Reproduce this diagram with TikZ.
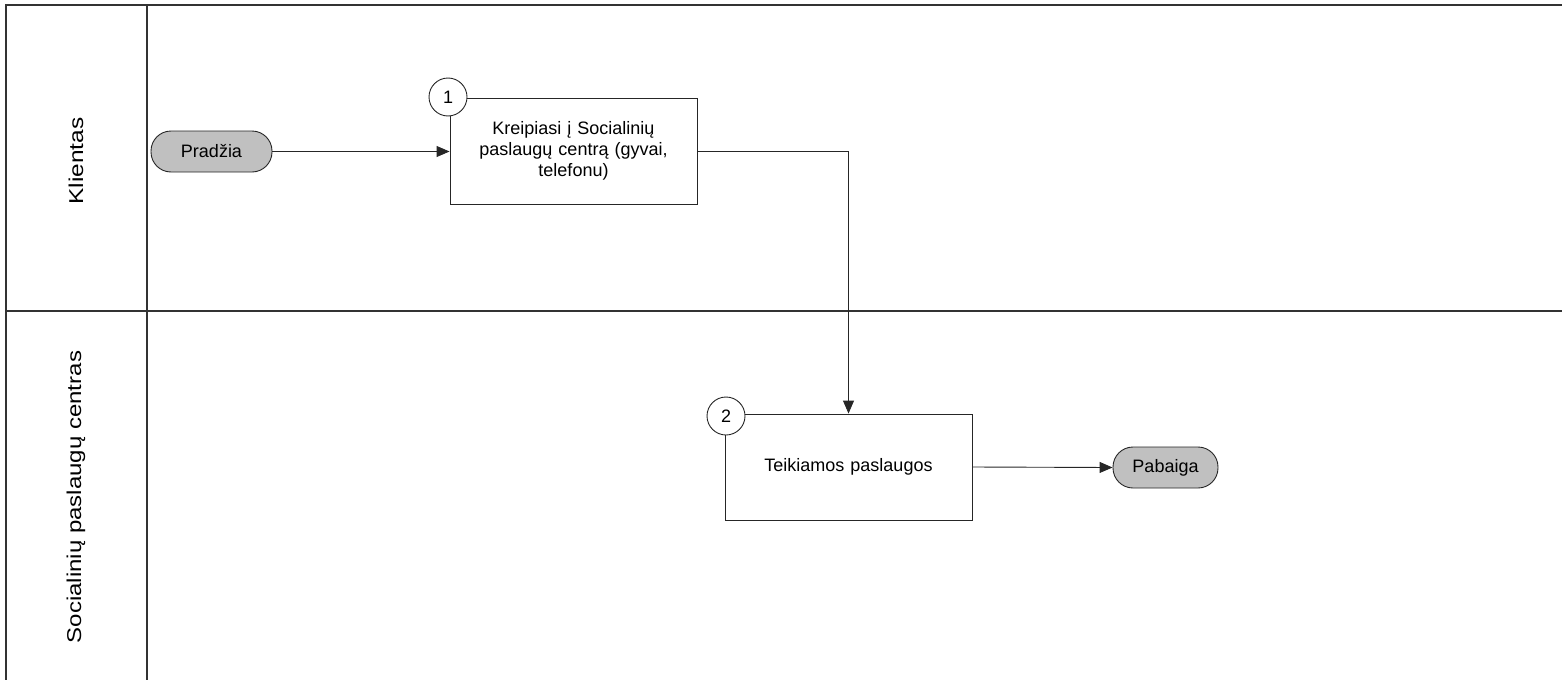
\documentclass[tikz,border=0pt]{standalone}
\usepackage{fontspec}
\setmainfont{Liberation Sans}
\usetikzlibrary{arrows.meta}

\definecolor{framegray}{HTML}{333333}
\definecolor{pillgray}{HTML}{C0C0C0}

\tikzset{
  laneline/.style={draw=framegray, line width=1.4pt},
  lanelabel/.style={rotate=90, font=\fontsize{20}{24}\selectfont, inner sep=0pt},
  taskbox/.style={draw=black!85, line width=0.9pt, fill=white, minimum width=247pt, minimum height=106pt,
                  text width=200pt, align=center, inner sep=0pt, font=\fontsize{18}{21}\selectfont},
  terminal/.style={draw=black!85, line width=0.9pt, fill=pillgray, rounded corners=20pt,
                   minimum height=41pt, inner sep=0pt, font=\fontsize{18}{21}\selectfont},
  stepnum/.style={circle, draw=black!85, line width=0.9pt, fill=white, minimum size=38pt, inner sep=0pt,
                  font=\fontsize{18}{21}\selectfont},
  flow/.style={draw=black!85, line width=0.9pt, -{Triangle[length=13pt,width=11pt]}},
}

\begin{document}
\begin{tikzpicture}[x=1pt,y=-1pt]
  \useasboundingbox (0,0) rectangle (1562,680);

  % swimlane frame
  \draw[laneline] (1562,5) -- (6,5) -- (6,680);
  \draw[laneline] (147,5) -- (147,680);
  \draw[laneline] (6,311) -- (1562,311);

  % lane titles
  \node[lanelabel] (laneA) at (76,161) {\scalebox{1.22}[1]{Klientas}};
  \node[lanelabel] (laneB) at (76,497) {\scalebox{1.2}[1]{Socialinių paslaugų centras}};

  % process elements
  \node[terminal, minimum width=121pt] (start) at (211.5,151.5) {Pradžia};
  \node[taskbox] (t1) at (573.5,151) {Kreipiasi į Socialinių\\paslaugų centrą (gyvai,\\telefonu)};
  \node[stepnum] (n1) at (448,97) {1};
  \node[taskbox] (t2) at (848.5,467) {Teikiamos paslaugos};
  \node[stepnum] (n2) at (726,416) {2};
  \node[terminal, minimum width=105pt] (end) at (1165.5,467.5) {Pabaiga};

  % connectors
  \draw[flow] (start.east) -- (t1.west |- start.east);
  \draw[flow] (t1.east) -| (t2.north);
  \draw[flow] (t2.east) -- (end.west);
\end{tikzpicture}
\end{document}
